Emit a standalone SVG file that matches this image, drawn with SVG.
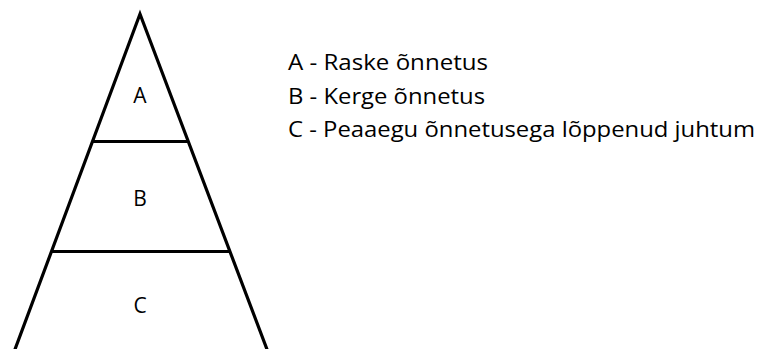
<svg xmlns="http://www.w3.org/2000/svg" width="760" height="349" viewBox="0 0 760 349">
<style>
.ln{stroke:#000;stroke-width:3.2;fill:none;stroke-linecap:butt}
.lbl{font-family:"Open Sans","Liberation Sans",sans-serif;font-size:21px;fill:#000;text-anchor:middle}
.leg{font-family:"Open Sans","Liberation Sans",sans-serif;font-size:22px;fill:#000}
</style>
<rect width="760" height="349" fill="#fff"/>
<g id="pyramid">
<polyline class="ln" points="14,352 140,14 268,352"/>
</g>
<g id="connectors">
<line class="ln" x1="93" y1="141.5" x2="188" y2="141.5"/>
<line class="ln" x1="51" y1="251.5" x2="231" y2="251.5"/>
</g>
<g id="nodeA"><text class="lbl" x="140" y="103">A</text></g>
<g id="nodeB"><text class="lbl" x="140" y="206">B</text></g>
<g id="nodeC"><text class="lbl" x="140" y="313">C</text></g>
<g id="legend">
<text class="leg" x="288" y="70" textLength="200" lengthAdjust="spacingAndGlyphs">A - Raske õnnetus</text>
<text class="leg" x="288" y="104" textLength="197" lengthAdjust="spacingAndGlyphs">B - Kerge õnnetus</text>
<text class="leg" x="288" y="137" textLength="467" lengthAdjust="spacingAndGlyphs">C - Peaaegu õnnetusega lõppenud juhtum</text>
</g>
</svg>
